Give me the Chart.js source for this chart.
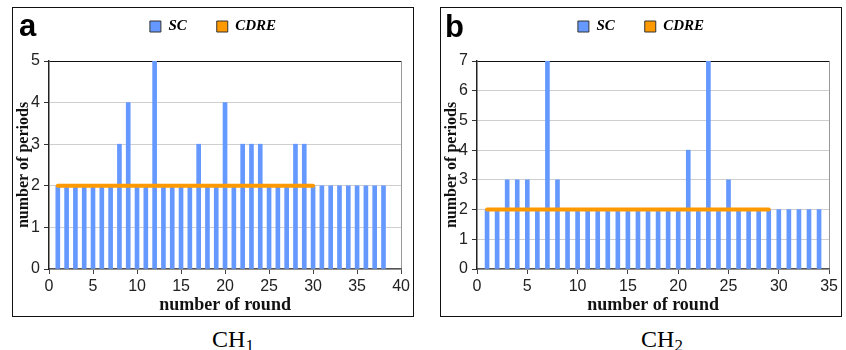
<!DOCTYPE html>
<html>
<head>
<meta charset="utf-8">
<script src="https://cdn.jsdelivr.net/npm/chart.js@4.4.1/dist/chart.umd.min.js"></script>
<style>
  body { margin: 0; background: #fff; width: 846px; height: 350px; position: relative; overflow: hidden; }
  .panel { position: absolute; top: 7px; width: 400px; height: 308px; border: 1px solid #111; background: #fff; }
  .panel canvas { display: block; }
  .letter { position: absolute; font: bold 31px/31px "Liberation Sans", Arial, sans-serif; color: #000; }
  .caption { position: absolute; width: 200px; text-align: center; font: 24px/24px "Liberation Serif", "Times New Roman", serif; color: #000; }
  .caption span { font-size: 17px; position: relative; top: 4px; }
</style>
</head>
<body>
<div class="panel" style="left:12px"><canvas id="chartCH1" width="400" height="308"></canvas></div>
<div class="panel" style="left:440px"><canvas id="chartCH2" width="400" height="308"></canvas></div>
<div class="letter" style="left:19px; top:10px">a</div>
<div class="letter" style="left:445px; top:11px">b</div>
<div class="caption" style="left:133px; top:327px">CH<span>1</span></div>
<div class="caption" style="left:562px; top:327px">CH<span>2</span></div>

<script>
// CH1: periods per round
const roundsCH1 = [1, 2, 3, 4, 5, 6, 7, 8, 9, 10, 11, 12, 13, 14, 15, 16, 17, 18, 19, 20,
  21, 22, 23, 24, 25, 26, 27, 28, 29, 30, 31, 32, 33, 34, 35, 36, 37, 38];
const scCH1 = [2, 2, 2, 2, 2, 2, 2, 3, 4, 2, 2, 5, 2, 2, 2, 2, 3, 2, 2, 4,
  2, 3, 3, 3, 2, 2, 2, 3, 3, 2, 2, 2, 2, 2, 2, 2, 2, 2];
const cdreRoundsCH1 = [1, 30];
const cdreCH1 = [2, 2];
const xMaxCH1 = 40;
const yMaxCH1 = 5;

// CH2: periods per round
const roundsCH2 = [1, 2, 3, 4, 5, 6, 7, 8, 9, 10, 11, 12, 13, 14, 15, 16, 17, 18, 19, 20,
  21, 22, 23, 24, 25, 26, 27, 28, 29, 30, 31, 32, 33, 34];
const scCH2 = [2, 2, 3, 3, 3, 2, 7, 3, 2, 2, 2, 2, 2, 2, 2, 2, 2, 2, 2, 2,
  4, 2, 7, 2, 3, 2, 2, 2, 2, 2, 2, 2, 2, 2];
const cdreRoundsCH2 = [1, 29];
const cdreCH2 = [2, 2];
const xMaxCH2 = 35;
const yMaxCH2 = 7;

const xStep = 5;
const seriesNames = ['SC', 'CDRE'];
const scColor = '#6699FF';
const cdreColor = '#FF9900';

function buildChart(canvasId, rounds, sc, cdreRounds, cdre, xMax, yMax) {
  const ctx = document.getElementById(canvasId).getContext('2d');
  return new Chart(ctx, {
    type: 'bar',
    data: {
      datasets: [{
        type: 'bar',
        label: seriesNames[0],
        data: rounds.map((r, i) => ({ x: r, y: sc[i] })),
        backgroundColor: scColor,
        borderWidth: 0,
        barThickness: 4,
        order: 1
      }, {
        type: 'line',
        label: seriesNames[1],
        data: cdreRounds.map((r, i) => ({ x: r, y: cdre[i] })),
        borderColor: cdreColor,
        backgroundColor: cdreColor,
        borderWidth: 4,
        borderCapStyle: 'round',
        pointRadius: 0,
        fill: false,
        tension: 0,
        order: 0
      }]
    },
    options: {
      responsive: false,
      animation: false,
      layout: { padding: { top: -19, left: 0, right: 0, bottom: 0 } },
      plugins: {
        tooltip: { enabled: false },
        legend: {
          position: 'top',
          labels: {
            boxWidth: 11,
            boxHeight: 11,
            padding: 30,
            color: '#000',
            font: { family: '"Liberation Serif", "Times New Roman", serif', size: 15, style: 'italic', weight: 'bold' },
            sort: (a, b) => a.datasetIndex - b.datasetIndex,
            generateLabels: function (chart) {
              const items = Chart.defaults.plugins.legend.labels.generateLabels(chart);
              items.forEach(item => {
                item.fillStyle = item.datasetIndex === 0 ? scColor : cdreColor;
                item.strokeStyle = '#333';
                item.lineWidth = 1;
                item.lineDash = [];
                item.lineCap = 'butt';
              });
              return items;
            }
          }
        },
        // empty block that keeps a gap between the legend and the plot
        subtitle: {
          display: true,
          text: '',
          weight: 500,
          font: { size: 1, lineHeight: 1 },
          padding: { top: 0, bottom: 16 }
        }
      },
      scales: {
        x: {
          type: 'linear',
          min: 0,
          max: xMax,
          offset: false,
          afterFit: scale => { scale.height = 47; },
          ticks: {
            stepSize: xStep,
            padding: 3,
            color: '#222',
            font: { family: '"Liberation Sans", Arial, sans-serif', size: 16 }
          },
          grid: {
            offset: false,
            tickLength: 5,
            tickColor: '#444',
            color: c => (c.tick && c.tick.value === xMax ? '#999' : 'rgba(0,0,0,0)')
          },
          border: { color: '#555', width: 1.5 },
          title: {
            display: true,
            text: 'number of round',
            color: '#111',
            padding: { top: 0, bottom: 0 },
            font: { family: '"Liberation Serif", "Times New Roman", serif', size: 18, weight: 'bold' }
          }
        },
        y: {
          min: 0,
          max: yMax,
          afterFit: scale => { scale.width = 36; },
          ticks: {
            stepSize: 1,
            padding: 4,
            color: '#222',
            font: { family: '"Liberation Sans", Arial, sans-serif', size: 16 }
          },
          grid: {
            tickLength: 5,
            tickColor: '#333',
            color: c => (c.tick && c.tick.value === yMax ? '#111' : '#cfcfcf')
          },
          border: { color: '#222', width: 1.5 },
          title: {
            display: true,
            text: 'number of periods',
            color: '#111',
            padding: { top: 1, bottom: 0 },
            font: { family: '"Liberation Serif", "Times New Roman", serif', size: 16, weight: 'bold' }
          }
        }
      }
    }
  });
}

buildChart('chartCH1', roundsCH1, scCH1, cdreRoundsCH1, cdreCH1, xMaxCH1, yMaxCH1);
buildChart('chartCH2', roundsCH2, scCH2, cdreRoundsCH2, cdreCH2, xMaxCH2, yMaxCH2);
</script>
</body>
</html>
